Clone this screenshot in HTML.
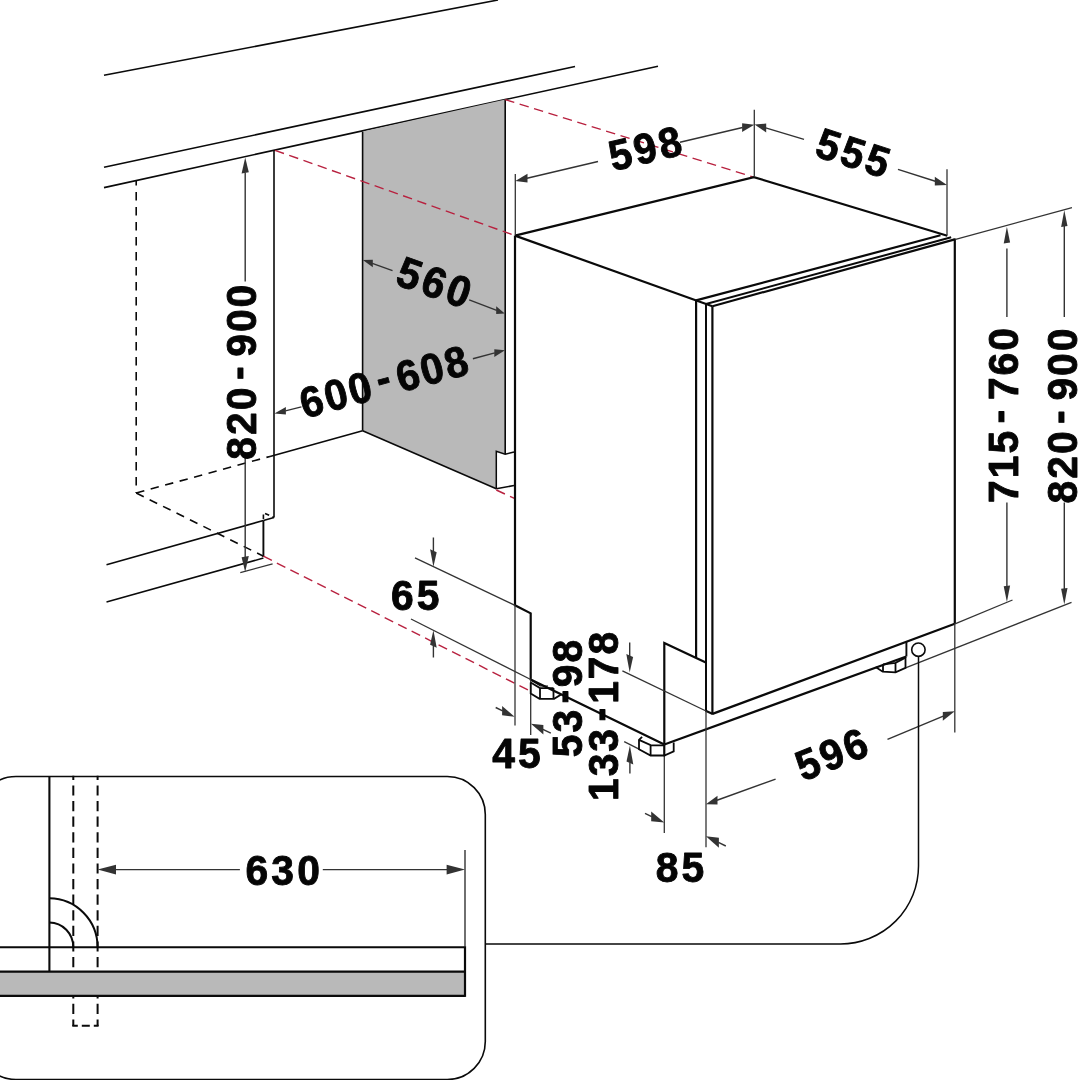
<!DOCTYPE html>
<html lang="en">
<head>
<meta charset="utf-8">
<title>Built-in dishwasher installation dimensions</title>
<style>
html,body{margin:0;padding:0;background:#ffffff;}
body{width:1090px;height:1080px;overflow:hidden;font-family:"Liberation Sans",sans-serif;}
svg{display:block;will-change:transform;}
svg text{font-family:"Liberation Sans",sans-serif;font-weight:700;fill:#050505;}
</style>
</head>
<body>
<svg width="1090" height="1080" viewBox="0 0 1090 1080">
<rect x="0" y="0" width="1090" height="1080" fill="#ffffff"/>
<line x1="104" y1="75.3" x2="498" y2="0" stroke="#0a0a0a" stroke-width="1.6" stroke-linecap="butt"/>
<line x1="104" y1="167.2" x2="575" y2="66.5" stroke="#0a0a0a" stroke-width="1.6" stroke-linecap="butt"/>
<line x1="104" y1="187.6" x2="505" y2="99.6" stroke="#0a0a0a" stroke-width="1.6" stroke-linecap="butt"/>
<line x1="505" y1="99.6" x2="658" y2="66.3" stroke="#0a0a0a" stroke-width="1.6" stroke-linecap="butt"/>
<polygon points="362.6,131.5 505.2,99.6 505.2,454 496.3,451.3 496.3,488.8 362.6,430.8" fill="#b9b9b9" stroke="none" stroke-width="0"/>
<line x1="362.6" y1="131.5" x2="362.6" y2="430.8" stroke="#0a0a0a" stroke-width="1.6" stroke-linecap="butt"/>
<line x1="505.2" y1="99.6" x2="505.2" y2="454" stroke="#0a0a0a" stroke-width="1.6" stroke-linecap="butt"/>
<line x1="362.6" y1="430.8" x2="496.3" y2="488.8" stroke="#0a0a0a" stroke-width="1.6" stroke-linecap="butt"/>
<path d="M496.3,488.8 L496.3,451.3 L505.2,454.2 L514,452" fill="none" stroke="#0a0a0a" stroke-width="1.5" stroke-linejoin="miter"/>
<line x1="496.3" y1="488.8" x2="514" y2="485.5" stroke="#0a0a0a" stroke-width="1.5" stroke-linecap="butt"/>
<line x1="274" y1="150.3" x2="274" y2="517.5" stroke="#0a0a0a" stroke-width="1.6" stroke-linecap="butt"/>
<line x1="270" y1="456.4" x2="362.6" y2="430.8" stroke="#0a0a0a" stroke-width="1.6" stroke-linecap="butt"/>
<line x1="136.2" y1="493" x2="270" y2="456.4" stroke="#0a0a0a" stroke-width="1.6" stroke-linecap="butt" stroke-dasharray="8.4 6.6"/>
<line x1="136.2" y1="181" x2="136.2" y2="493" stroke="#0a0a0a" stroke-width="1.6" stroke-linecap="butt" stroke-dasharray="8.4 6.6" stroke-dashoffset="4"/>
<line x1="136.2" y1="493" x2="263.4" y2="556.2" stroke="#0a0a0a" stroke-width="1.6" stroke-linecap="butt" stroke-dasharray="8.4 6.6"/>
<line x1="106.5" y1="564.7" x2="263.4" y2="520.5" stroke="#0a0a0a" stroke-width="1.6" stroke-linecap="butt"/>
<line x1="263.4" y1="520.5" x2="274" y2="517.5" stroke="#0a0a0a" stroke-width="1.6" stroke-linecap="butt"/>
<line x1="263.4" y1="557" x2="263.4" y2="520.5" stroke="#0a0a0a" stroke-width="1.9" stroke-linecap="butt"/>
<path d="M263.4,519 L263.4,512.8 L274,517.5" fill="none" stroke="#0a0a0a" stroke-width="1.6" stroke-linejoin="miter" stroke-dasharray="4.5 3.5"/>
<line x1="106.5" y1="602" x2="263.4" y2="558.1" stroke="#0a0a0a" stroke-width="1.6" stroke-linecap="butt"/>
<line x1="505.2" y1="99.6" x2="753.7" y2="177.2" stroke="#b8213f" stroke-width="1.4" stroke-linecap="butt" stroke-dasharray="9.5 5.6"/>
<line x1="275" y1="150.3" x2="515" y2="235.5" stroke="#b8213f" stroke-width="1.4" stroke-linecap="butt" stroke-dasharray="9.5 5.6"/>
<line x1="263.4" y1="556.2" x2="529" y2="690.5" stroke="#b8213f" stroke-width="1.4" stroke-linecap="butt" stroke-dasharray="9.5 5.6"/>
<line x1="496.3" y1="490" x2="515" y2="498.7" stroke="#b8213f" stroke-width="1.4" stroke-linecap="butt" stroke-dasharray="9.5 5.6"/>
<path d="M515,235.6 L753.9,177.1 L947.3,235.8" fill="none" stroke="#0a0a0a" stroke-width="2.2" stroke-linejoin="miter"/>
<path d="M515,235.6 L712.4,306.2" fill="none" stroke="#0a0a0a" stroke-width="2.2" stroke-linejoin="miter"/>
<line x1="696.1" y1="300.4" x2="940.5" y2="235.3" stroke="#0a0a0a" stroke-width="2.2" stroke-linecap="butt"/>
<line x1="706" y1="304" x2="951.2" y2="237.2" stroke="#0a0a0a" stroke-width="2.0" stroke-linecap="butt"/>
<line x1="712.4" y1="306.2" x2="954.8" y2="239.4" stroke="#0a0a0a" stroke-width="2.2" stroke-linecap="butt"/>
<path d="M515,235.6 L515,605.3 L530.7,613.3 L530.7,679.5 L664.3,744.5" fill="none" stroke="#0a0a0a" stroke-width="2.2" stroke-linejoin="miter"/>
<line x1="696.1" y1="300.4" x2="696.1" y2="657.8" stroke="#0a0a0a" stroke-width="2.2" stroke-linecap="butt"/>
<line x1="706" y1="304" x2="706" y2="711.5" stroke="#0a0a0a" stroke-width="2.0" stroke-linecap="butt"/>
<line x1="712.4" y1="306.2" x2="712.4" y2="714.2" stroke="#0a0a0a" stroke-width="2.2" stroke-linecap="butt"/>
<line x1="705.6" y1="710.8" x2="712.8" y2="714" stroke="#0a0a0a" stroke-width="2.2" stroke-linecap="butt"/>
<line x1="954.8" y1="238.6" x2="954.8" y2="623.8" stroke="#0a0a0a" stroke-width="2.2" stroke-linecap="butt"/>
<line x1="712.4" y1="713.9" x2="954.8" y2="623.8" stroke="#0a0a0a" stroke-width="2.2" stroke-linecap="butt"/>
<line x1="664.3" y1="744.5" x2="906.3" y2="656.5" stroke="#0a0a0a" stroke-width="2.2" stroke-linecap="butt"/>
<line x1="906.4" y1="656.5" x2="906.4" y2="641.6" stroke="#0a0a0a" stroke-width="1.9" stroke-linecap="butt"/>
<path d="M664.3,744.5 L664.3,643 L705.8,662.5" fill="none" stroke="#0a0a0a" stroke-width="2.2" stroke-linejoin="miter"/>
<line x1="515.3" y1="174" x2="515.3" y2="235" stroke="#333333" stroke-width="1.3" stroke-linecap="butt"/>
<line x1="754.3" y1="109.7" x2="754.3" y2="177" stroke="#333333" stroke-width="1.3" stroke-linecap="butt"/>
<line x1="947" y1="169.2" x2="947" y2="235.3" stroke="#333333" stroke-width="1.3" stroke-linecap="butt"/>
<line x1="955.6" y1="239.3" x2="1072" y2="207.6" stroke="#333333" stroke-width="1.3" stroke-linecap="butt"/>
<line x1="955" y1="623.8" x2="1012.5" y2="600" stroke="#333333" stroke-width="1.3" stroke-linecap="butt"/>
<line x1="905.5" y1="667.9" x2="1071.5" y2="602.3" stroke="#333333" stroke-width="1.3" stroke-linecap="butt"/>
<line x1="954.8" y1="623.8" x2="954.8" y2="732.5" stroke="#333333" stroke-width="1.3" stroke-linecap="butt"/>
<line x1="706" y1="711" x2="706" y2="847.3" stroke="#333333" stroke-width="1.3" stroke-linecap="butt"/>
<line x1="664.3" y1="744.5" x2="664.3" y2="833" stroke="#333333" stroke-width="1.3" stroke-linecap="butt"/>
<line x1="515" y1="605.3" x2="515" y2="725.5" stroke="#333333" stroke-width="1.3" stroke-linecap="butt"/>
<line x1="530.7" y1="679.5" x2="530.7" y2="735" stroke="#333333" stroke-width="1.3" stroke-linecap="butt"/>
<line x1="415" y1="557.9" x2="515" y2="605.3" stroke="#333333" stroke-width="1.3" stroke-linecap="butt"/>
<line x1="411" y1="619" x2="530.7" y2="679.5" stroke="#333333" stroke-width="1.3" stroke-linecap="butt"/>
<line x1="622.4" y1="670.8" x2="706" y2="711" stroke="#333333" stroke-width="1.3" stroke-linecap="butt"/>
<line x1="624.2" y1="741.6" x2="640" y2="749.6" stroke="#333333" stroke-width="1.3" stroke-linecap="butt"/>
<line x1="240.3" y1="572.7" x2="272.6" y2="563.8" stroke="#333333" stroke-width="1.3" stroke-linecap="butt"/>
<line x1="527.0" y1="178.24" x2="598" y2="161.5" stroke="#333333" stroke-width="1.4" stroke-linecap="butt"/>
<polygon points="515.3,181 527.5,173.72 527.5,182.52" fill="#333333" stroke="none" stroke-width="0"/>
<line x1="742.6" y1="127.46" x2="680" y2="142.2" stroke="#333333" stroke-width="1.4" stroke-linecap="butt"/>
<polygon points="754.3,124.7 742.1,123.17 742.1,131.97" fill="#333333" stroke="none" stroke-width="0"/>
<line x1="765.7" y1="127.83" x2="804" y2="139.3" stroke="#333333" stroke-width="1.4" stroke-linecap="butt"/>
<polygon points="754.6,124.5 766.2,123.58 766.2,132.38" fill="#333333" stroke="none" stroke-width="0"/>
<line x1="935.3" y1="181.28" x2="898" y2="169.4" stroke="#333333" stroke-width="1.4" stroke-linecap="butt"/>
<polygon points="947,185 934.8,176.72 934.8,185.52" fill="#333333" stroke="none" stroke-width="0"/>
<line x1="372.3" y1="263.39" x2="392.5" y2="270.6" stroke="#333333" stroke-width="1.4" stroke-linecap="butt"/>
<polygon points="362.8,260 372.8,259.77 372.8,267.37" fill="#333333" stroke="none" stroke-width="0"/>
<line x1="496.7" y1="310.31" x2="469.2" y2="299.8" stroke="#333333" stroke-width="1.4" stroke-linecap="butt"/>
<polygon points="504.8,313.4 496.2,306.31 496.2,313.91" fill="#333333" stroke="none" stroke-width="0"/>
<line x1="285.4" y1="410.87" x2="301.4" y2="406.9" stroke="#333333" stroke-width="1.4" stroke-linecap="butt"/>
<polygon points="274.4,413.6 285.9,407.05 285.9,414.45" fill="#333333" stroke="none" stroke-width="0"/>
<line x1="494.8" y1="352.93" x2="472.9" y2="358.8" stroke="#333333" stroke-width="1.4" stroke-linecap="butt"/>
<polygon points="505,350.2 494.3,349.17 494.3,356.97" fill="#333333" stroke="none" stroke-width="0"/>
<line x1="245.2" y1="172.4" x2="245.2" y2="281.5" stroke="#333333" stroke-width="1.4" stroke-linecap="butt"/>
<polygon points="245.2,157.5 241.6,173.58 248.8,172.22" fill="#333333" stroke="none" stroke-width="0"/>
<line x1="245.2" y1="557.1" x2="245.2" y2="456.4" stroke="#333333" stroke-width="1.4" stroke-linecap="butt"/>
<polygon points="245.2,572 241.6,557.28 248.8,555.92" fill="#333333" stroke="none" stroke-width="0"/>
<line x1="1006.9" y1="248.5" x2="1006.9" y2="317" stroke="#333333" stroke-width="1.4" stroke-linecap="butt"/>
<polygon points="1006.9,226.8 1003.7,243.38 1010.1,242.62" fill="#333333" stroke="none" stroke-width="0"/>
<line x1="1006.9" y1="586.3" x2="1006.9" y2="502.5" stroke="#333333" stroke-width="1.4" stroke-linecap="butt"/>
<polygon points="1006.9,602 1003.7,586.18 1010.1,585.42" fill="#333333" stroke="none" stroke-width="0"/>
<line x1="1064.3" y1="226.0" x2="1064.3" y2="317" stroke="#333333" stroke-width="1.4" stroke-linecap="butt"/>
<polygon points="1064.3,210.3 1061.1,226.88 1067.5,226.12" fill="#333333" stroke="none" stroke-width="0"/>
<line x1="1064.3" y1="588.9" x2="1064.3" y2="502.5" stroke="#333333" stroke-width="1.4" stroke-linecap="butt"/>
<polygon points="1064.3,604.6 1061.1,588.78 1067.5,588.02" fill="#333333" stroke="none" stroke-width="0"/>
<line x1="433.4" y1="551.2" x2="433.4" y2="537.5" stroke="#333333" stroke-width="1.4" stroke-linecap="butt"/>
<polygon points="433.4,566.7 430.1,549.22 436.7,552.19" fill="#333333" stroke="none" stroke-width="0"/>
<line x1="433.4" y1="645.8" x2="433.4" y2="657.5" stroke="#333333" stroke-width="1.4" stroke-linecap="butt"/>
<polygon points="433.4,630.3 430.1,644.81 436.7,647.78" fill="#333333" stroke="none" stroke-width="0"/>
<line x1="502.6" y1="710.9" x2="495.7" y2="707.5" stroke="#333333" stroke-width="1.4" stroke-linecap="butt"/>
<polygon points="514.6,716.8 502.1,705.95 502.1,715.35" fill="#333333" stroke="none" stroke-width="0"/>
<line x1="542.9" y1="729.47" x2="550.8" y2="733.2" stroke="#333333" stroke-width="1.4" stroke-linecap="butt"/>
<polygon points="530.9,723.8 543.4,725.0 543.4,734.4" fill="#333333" stroke="none" stroke-width="0"/>
<line x1="629.7" y1="656.0" x2="629.7" y2="642.5" stroke="#333333" stroke-width="1.4" stroke-linecap="butt"/>
<polygon points="629.7,672.5 626.3,653.97 633.1,657.03" fill="#333333" stroke="none" stroke-width="0"/>
<line x1="629.9" y1="762.5" x2="629.9" y2="773.5" stroke="#333333" stroke-width="1.4" stroke-linecap="butt"/>
<polygon points="629.9,745.6 626.5,761.47 633.3,764.53" fill="#333333" stroke="none" stroke-width="0"/>
<line x1="651.7" y1="816.59" x2="645" y2="813.4" stroke="#333333" stroke-width="1.4" stroke-linecap="butt"/>
<polygon points="664.3,822.6 651.2,811.46 651.2,821.26" fill="#333333" stroke="none" stroke-width="0"/>
<line x1="718.4" y1="842.39" x2="725.8" y2="846" stroke="#333333" stroke-width="1.4" stroke-linecap="butt"/>
<polygon points="705.9,836.3 718.9,837.64 718.9,847.64" fill="#333333" stroke="none" stroke-width="0"/>
<line x1="717.0" y1="800.22" x2="775.6" y2="779.2" stroke="#333333" stroke-width="1.4" stroke-linecap="butt"/>
<polygon points="705.9,804.2 717.5,795.64 717.5,804.44" fill="#333333" stroke="none" stroke-width="0"/>
<line x1="943.3" y1="716.1" x2="887.5" y2="739.4" stroke="#333333" stroke-width="1.4" stroke-linecap="butt"/>
<polygon points="954.8,711.3 942.8,711.91 942.8,720.71" fill="#333333" stroke="none" stroke-width="0"/>
<circle cx="918.4" cy="649.7" r="6.7" fill="#fff" stroke="#0a0a0a" stroke-width="1.6"/>
<path d="M918.5,657 L918.5,866 A78,78 0 0 1 840.5,944 L485.3,944" fill="none" stroke="#0a0a0a" stroke-width="1.5" stroke-linejoin="miter"/>
<rect x="-22" y="776.5" width="507.3" height="303" rx="38" ry="38" fill="#fff" stroke="#0a0a0a" stroke-width="1.6"/>
<line x1="49.4" y1="776.5" x2="49.4" y2="971.5" stroke="#0a0a0a" stroke-width="2.1" stroke-linecap="butt"/>
<line x1="73.3" y1="775.8" x2="73.3" y2="1026" stroke="#0a0a0a" stroke-width="2" stroke-linecap="butt" stroke-dasharray="10.2 5.4" stroke-dashoffset="6"/>
<line x1="97.6" y1="775.8" x2="97.6" y2="1026" stroke="#0a0a0a" stroke-width="2" stroke-linecap="butt" stroke-dasharray="10.2 5.4" stroke-dashoffset="6"/>
<line x1="72.3" y1="1025.8" x2="98.6" y2="1025.8" stroke="#0a0a0a" stroke-width="2" stroke-linecap="butt" stroke-dasharray="5.5 4 8 4 5"/>
<rect x="-2" y="971.7" width="467" height="24" fill="#b9b9b9" stroke="none"/>
<line x1="0" y1="947.2" x2="465" y2="947.2" stroke="#0a0a0a" stroke-width="2" stroke-linecap="butt"/>
<line x1="0" y1="971.7" x2="465" y2="971.7" stroke="#0a0a0a" stroke-width="2.2" stroke-linecap="butt"/>
<line x1="0" y1="995.8" x2="465" y2="995.8" stroke="#0a0a0a" stroke-width="2.2" stroke-linecap="butt"/>
<line x1="465" y1="946.2" x2="465" y2="996.9" stroke="#0a0a0a" stroke-width="2.2" stroke-linecap="butt"/>
<line x1="465" y1="850" x2="465" y2="947" stroke="#333333" stroke-width="1.4" stroke-linecap="butt"/>
<path d="M49.4,898.2 A48.6,49 0 0 1 97.6,947.2" fill="none" stroke="#0a0a0a" stroke-width="2" stroke-linejoin="miter"/>
<path d="M49.4,922.5 A24,24.7 0 0 1 73.3,947.2" fill="none" stroke="#0a0a0a" stroke-width="2" stroke-linejoin="miter"/>
<line x1="115.5" y1="869.6" x2="239.9" y2="869.6" stroke="#333333" stroke-width="1.4" stroke-linecap="butt"/>
<polygon points="97.6,869.6 116.0,864.8000000000001 116.0,874.4" fill="#333333" stroke="none" stroke-width="0"/>
<line x1="447.1" y1="869.6" x2="322.8" y2="869.6" stroke="#333333" stroke-width="1.4" stroke-linecap="butt"/>
<polygon points="465,869.6 446.6,864.8000000000001 446.6,874.4" fill="#333333" stroke="none" stroke-width="0"/>
<path d="M530.7,682.6 L530.7,693.6 L539.5,698.8 L554.1,698.8 L561.2,694.4" fill="none" stroke="#0a0a0a" stroke-width="1.8" stroke-linejoin="miter"/>
<path d="M530.7,682.6 L540,688.1 L553.5,688.1 M540,688.1 L540,698.8 M553.5,688.1 L553.5,698.8" fill="none" stroke="#0a0a0a" stroke-width="1.8" stroke-linejoin="miter"/>
<path d="M531.5,680.6 L540.5,686 L548,686" fill="none" stroke="#0a0a0a" stroke-width="1.2" stroke-linejoin="miter"/>
<path d="M642.1,736.8 L639,739.9 L639,749.2 L650.6,755.5 L664.3,755.5 L673.7,751.4 L673.7,742.6" fill="none" stroke="#0a0a0a" stroke-width="1.8" stroke-linejoin="miter"/>
<path d="M639,739.9 L650.6,745.1 L664.3,745.4 M650.6,745.1 L650.6,755.5" fill="none" stroke="#0a0a0a" stroke-width="1.8" stroke-linejoin="miter"/>
<line x1="664.3" y1="744.5" x2="664.3" y2="756.2" stroke="#0a0a0a" stroke-width="2.1" stroke-linecap="butt"/>
<path d="M875.6,666.9 L882.7,671.7 L895.5,672.4 L905.5,667.9 L905.5,657" fill="none" stroke="#0a0a0a" stroke-width="1.8" stroke-linejoin="miter"/>
<path d="M883,664.3 L883,671.7 M883,664.3 L895.5,662.8 L905.5,657.6 M895.5,662.8 L895.5,672.4" fill="none" stroke="#0a0a0a" stroke-width="1.8" stroke-linejoin="miter"/>
<text transform="matrix(0.9153 -0.2164 0.2277 0.9634 645 148.3)" x="-39.11 -11.95 15.2" y="15.01 15.01 15.01" font-size="43" stroke="#050505" stroke-width="0.9" stroke-linejoin="round">598</text>
<text transform="matrix(0.9045 0.2904 -0.3057 0.9521 853.2 152.7)" x="-39.11 -11.95 15.2" y="15.01 15.01 15.01" font-size="43" stroke="#050505" stroke-width="0.9" stroke-linejoin="round">555</text>
<text transform="matrix(0.9045 0.3203 -0.3371 0.9521 434.3 282.2)" x="-39.11 -11.95 15.2" y="15.01 15.01 15.01" font-size="43" stroke="#050505" stroke-width="0.9" stroke-linejoin="round">560</text>
<text transform="matrix(0.9168 -0.2491 0.2622 0.9650 383.8 381.6)" x="-90.69 -64.38 -38.06 -7.16 14.15 40.47 66.78" y="15.01 15.01 15.01 10.81 15.01 15.01 15.01" font-size="43" stroke="#050505" stroke-width="0.9" stroke-linejoin="round">600-608</text>
<text transform="matrix(0.0000 -0.9500 1.0000 0.0000 241.4 372.2)" x="-92.11 -66.11 -40.11 -8.32 16.21 42.21 68.21" y="15.01 15.01 15.01 10.81 15.01 15.01 15.01" font-size="43" stroke="#050505" stroke-width="0.9" stroke-linejoin="round">820-900</text>
<text transform="matrix(0.0000 -0.9500 1.0000 0.0000 1002.6 415.5)" x="-92.11 -66.11 -40.11 -8.32 16.21 42.21 68.21" y="15.01 15.01 15.01 10.81 15.01 15.01 15.01" font-size="43" stroke="#050505" stroke-width="0.9" stroke-linejoin="round">715-760</text>
<text transform="matrix(0.0000 -0.9500 1.0000 0.0000 1062 416)" x="-92.11 -66.11 -40.11 -8.32 16.21 42.21 68.21" y="15.01 15.01 15.01 10.81 15.01 15.01 15.01" font-size="43" stroke="#050505" stroke-width="0.9" stroke-linejoin="round">820-900</text>
<text transform="matrix(0.9500 0.0000 -0.0000 1.0000 415.2 594.9)" x="-25.53 1.62" y="15.01 15.01" font-size="43" stroke="#050505" stroke-width="0.9" stroke-linejoin="round">65</text>
<text transform="matrix(0.9500 0.0000 -0.0000 1.0000 516.4 752.8)" x="-25.53 1.62" y="15.01 15.01" font-size="43" stroke="#050505" stroke-width="0.9" stroke-linejoin="round">45</text>
<text transform="matrix(0.9500 0.0000 -0.0000 1.0000 680 866.6)" x="-25.53 1.62" y="15.01 15.01" font-size="43" stroke="#050505" stroke-width="0.9" stroke-linejoin="round">85</text>
<text transform="matrix(0.9500 0.0000 -0.0000 1.0000 282.7 870)" x="-39.11 -11.95 15.2" y="15.01 15.01 15.01" font-size="43" stroke="#050505" stroke-width="0.9" stroke-linejoin="round">630</text>
<text transform="matrix(0.8720 -0.3523 0.3709 0.9179 831.5 754.2)" x="-39.11 -11.95 15.2" y="15.01 15.01 15.01" font-size="43" stroke="#050505" stroke-width="0.9" stroke-linejoin="round">596</text>
<text transform="matrix(0.0000 -0.9500 1.0000 0.0000 566.5 698.6)" x="-61.8 -35.8 -5.05 11.89 37.89" y="15.01 15.01 10.81 15.01 15.01" font-size="43" stroke="#050505" stroke-width="0.9" stroke-linejoin="round">53-98</text>
<text transform="matrix(0.0000 -0.9500 1.0000 0.0000 603.3 716.4)" x="-89.11 -63.11 -37.11 -5.32 13.21 39.21 65.21" y="15.01 15.01 15.01 10.81 15.01 15.01 15.01" font-size="43" stroke="#050505" stroke-width="0.9" stroke-linejoin="round">133-178</text>
</svg>
</body>
</html>
